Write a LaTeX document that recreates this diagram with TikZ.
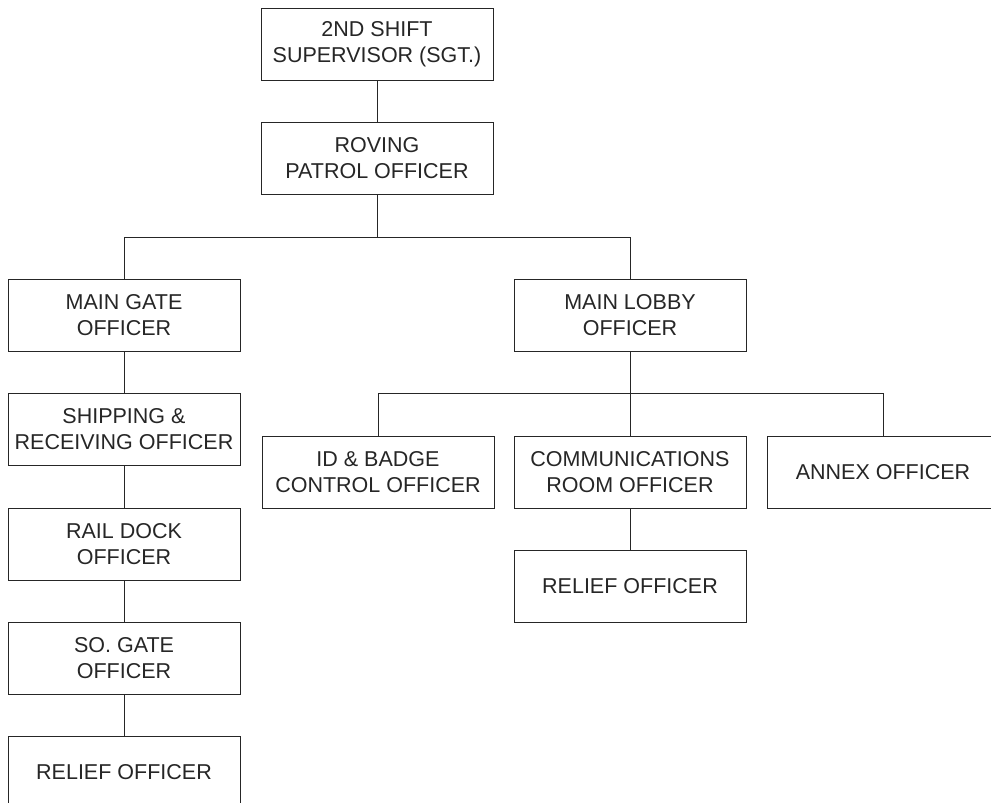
\documentclass[tikz,border=0pt]{standalone}
\usepackage{fontspec}
\setmainfont{Liberation Sans}
\begin{document}
\begin{tikzpicture}[x=1pt,y=-1pt,
  post/.style={draw=black!85,line width=1pt,fill=white,
    minimum width=232pt,minimum height=72pt,inner sep=0pt,
    align=center,text=black!85,
    font=\fontsize{21.5}{26}\selectfont},
  link/.style={draw=black!85,line width=1pt}]
\useasboundingbox (0,0) rectangle (991,803);
\clip (0,0) rectangle (991,803);
% chain of command
\node[post] (sgt)   at (377,44)  {2ND SHIFT\\SUPERVISOR (SGT.)};
\node[post] (rov)   at (377,158) {ROVING\\PATROL OFFICER};
% left column
\node[post] (gate)  at (124,315) {MAIN GATE\\OFFICER};
\node[post] (ship)  at (124,429) {SHIPPING \&\\RECEIVING OFFICER};
\node[post] (rail)  at (124,544) {RAIL DOCK\\OFFICER};
\node[post] (so)    at (124,658) {SO. GATE\\OFFICER};
\node[post] (relA)  at (124,772) {RELIEF OFFICER};
% right branch
\node[post] (lobby) at (630,315) {MAIN LOBBY\\OFFICER};
\node[post] (badge) at (378,472) {ID \& BADGE\\CONTROL OFFICER};
\node[post] (comm)  at (630,472) {COMMUNICATIONS\\ROOM OFFICER};
\node[post] (annex) at (883,472) {ANNEX OFFICER};
\node[post] (relB)  at (630,586) {RELIEF OFFICER};
% connectors
\draw[link] (sgt) -- (rov);
\draw[link] (rov.south) |- (gate.north |- 0,237) -- (gate.north);
\draw[link] (rov.south) |- (lobby.north |- 0,237) -- (lobby.north);
\draw[link] (gate) -- (ship);
\draw[link] (ship) -- (rail);
\draw[link] (rail) -- (so);
\draw[link] (so) -- (relA);
\draw[link] (lobby.south) |- (badge.north |- 0,393) -- (badge.north);
\draw[link] (lobby.south) |- (annex.north |- 0,393) -- (annex.north);
\draw[link] (lobby) -- (comm);
\draw[link] (comm) -- (relB);
\end{tikzpicture}
\end{document}
